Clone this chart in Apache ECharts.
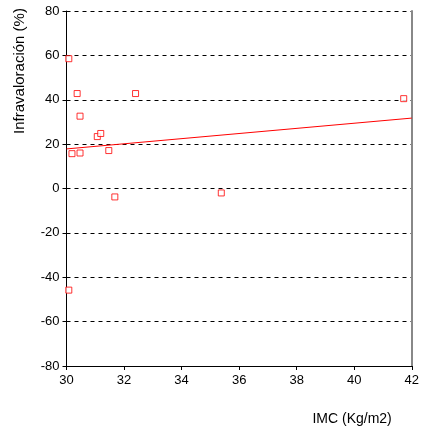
<!DOCTYPE html>
<html>
<head>
<meta charset="utf-8">
<script src="https://cdn.jsdelivr.net/npm/echarts@6/dist/echarts.min.js"></script>
<style>
  html, body { margin: 0; padding: 0; background: #fff; }
  #chart { width: 422px; height: 432px; }
</style>
</head>
<body>
<div id="chart"></div>
<script>
// BMI (IMC) of each subject
const imc = [30.08, 30.37, 32.40, 30.47, 31.07, 31.19, 30.19, 30.47, 31.47, 31.68, 35.38, 41.72, 30.08];
// Underestimation (%) of each subject
const infravaloracion = [58.5, 42.8, 42.8, 32.6, 23.4, 24.8, 15.7, 16.0, 17.1, -3.8, -2.0, 40.5, -45.8];
// Axis ranges
const xRange = [30, 42];
const yRange = [-80, 80];

const points = imc.map((x, i) => [x, infravaloracion[i]]);

// Least-squares fit drawn across the full x range
const n = imc.length;
const mx = imc.reduce((a, b) => a + b, 0) / n;
const my = infravaloracion.reduce((a, b) => a + b, 0) / n;
let sxy = 0, sxx = 0;
for (let i = 0; i < n; i++) {
  sxy += (imc[i] - mx) * (infravaloracion[i] - my);
  sxx += (imc[i] - mx) * (imc[i] - mx);
}
const slope = sxy / sxx;
const intercept = my - slope * mx;
const fitLine = xRange.map(x => [x, intercept + slope * x]);

const font = 'Liberation Sans, Arial, sans-serif';
const chart = echarts.init(document.getElementById('chart'), null, { renderer: 'canvas' });
chart.setOption({
  animation: false,
  grid: { left: 66.5, right: 9, top: 11, bottom: 66, containLabel: false },
  graphic: [{
    type: 'text', x: 20, y: 71, rotation: Math.PI / 2,
    style: { text: 'Infravaloración (%)', font: '15px ' + font, fill: '#000', textAlign: 'center', textVerticalAlign: 'middle' }
  }],
  xAxis: {
    type: 'value', min: xRange[0], max: xRange[1], interval: 2,
    name: 'IMC (Kg/m2)', nameLocation: 'end', nameGap: 0,
    nameTextStyle: { fontFamily: font, fontSize: 14, color: '#000', align: 'right', verticalAlign: 'top', padding: [46, 20, 0, 0] },
    axisLine: { onZero: false, lineStyle: { color: '#000', width: 1 } },
    axisTick: { show: true, length: 4, lineStyle: { color: '#000' } },
    axisLabel: { fontFamily: font, fontSize: 13, color: '#000', margin: 8 },
    splitLine: { show: false }
  },
  yAxis: [{
    type: 'value', min: yRange[0], max: yRange[1], interval: 20,
    axisLine: { show: true, onZero: false, lineStyle: { color: '#000', width: 1 } },
    axisTick: { show: true, length: 4, lineStyle: { color: '#000' } },
    axisLabel: { fontFamily: font, fontSize: 13, color: '#000', margin: 7, padding: [0, 0, 4, 0] },
    splitLine: { show: true, lineStyle: { color: '#000', width: 1, type: [4, 4] } }
  }, {
    type: 'value', min: yRange[0], max: yRange[1], position: 'right',
    axisLine: { show: true, onZero: false, lineStyle: { color: '#888', width: 2 } },
    axisTick: { show: false }, axisLabel: { show: false }, splitLine: { show: false }
  }],
  series: [{
    type: 'line', data: fitLine, showSymbol: false, symbol: 'none',
    lineStyle: { color: '#ff0000', width: 1 }, silent: true, z: 2
  }, {
    type: 'scatter', data: points, symbol: 'rect', symbolSize: 6,
    itemStyle: { color: '#fff', borderColor: '#ff0000', borderWidth: 1 }, z: 3
  }]
});
</script>
</body>
</html>
